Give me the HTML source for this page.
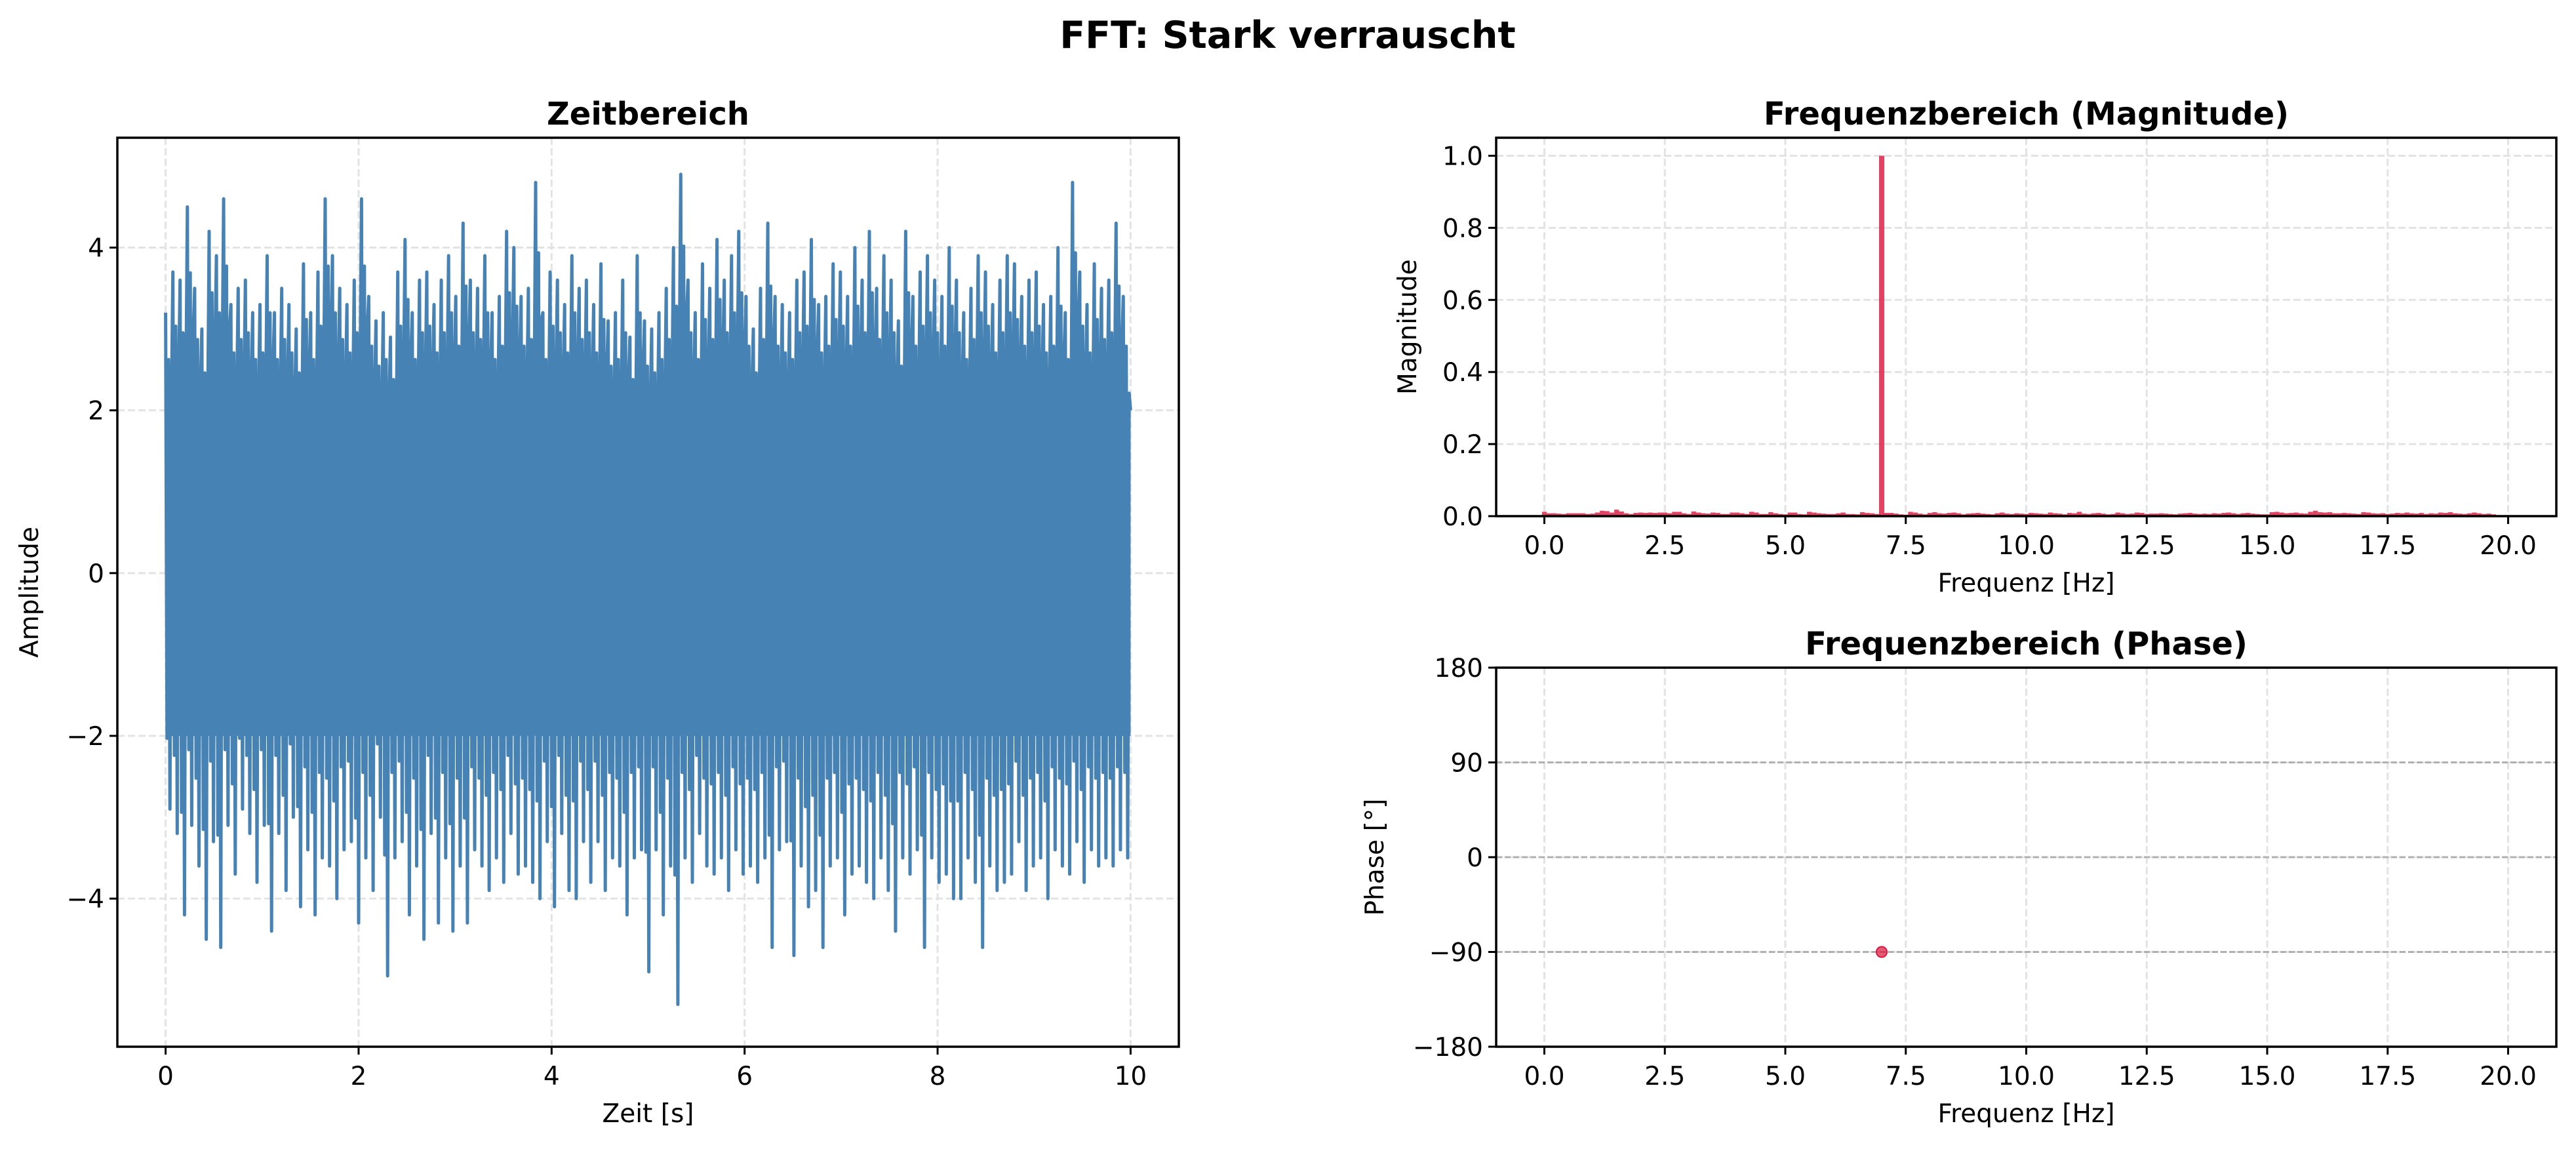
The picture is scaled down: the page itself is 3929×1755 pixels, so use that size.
<!DOCTYPE html>
<html><head><meta charset="utf-8"><style>
html,body{margin:0;padding:0;background:#fff}
svg{display:block}
text{font-family:"DejaVu Sans","Liberation Sans",sans-serif}
</style></head><body>
<svg id="fig" width="3929" height="1755" viewBox="0 0 3929 1755" xmlns="http://www.w3.org/2000/svg">
<rect width="3929" height="1755" fill="#fff"/>
<text x="1964" y="73" font-size="57" font-weight="bold" text-anchor="middle">FFT: Stark verrauscht</text>
<g id="ax1"></g>
<g id="ax2"></g>
<g id="ax3"></g>
</svg>
<script>
// ---- data ----
const timePeaks = [3.2,3.7,3.6,4.5,3.5,3.0,4.2,3.9,4.6,3.3,3.5,3.6,3.2,3.3,3.9,3.2,3.5,3.3,3.0,3.8,3.2,3.7,4.6,3.9,3.5,3.3,3.6,4.6,3.4,3.1,3.2,2.9,3.7,4.1,3.2,3.6,3.7,3.3,3.6,3.9,3.4,4.3,3.6,3.5,3.9,3.2,3.4,4.2,4.0,3.4,3.5,4.8,3.2,3.7,3.6,3.3,3.9,3.5,3.6,3.3,3.8,3.1,3.2,3.6,2.9,3.9,3.1,3.0,3.2,3.5,4.0,4.9,3.6,3.2,3.8,3.5,4.1,3.6,3.9,4.2,3.4,3.0,3.5,4.3,3.4,3.3,3.2,3.6,3.7,4.1,3.3,3.4,3.8,3.7,3.4,4.0,3.6,4.2,3.5,3.9,3.6,3.1,4.2,3.4,3.7,3.9,3.6,3.4,4.0,3.6,3.2,3.5,3.9,3.7,3.3,3.6,3.9,3.8,3.4,3.6,3.7,3.3,3.4,4.0,3.2,4.8,3.7,3.3,3.8,3.5,3.6,4.3,3.4,2.0];
const timeTroughs = [-2.9,-3.2,-4.2,-3.1,-3.6,-4.5,-3.3,-4.6,-3.1,-3.7,-2.9,-3.2,-3.8,-3.1,-4.4,-3.2,-3.9,-3.0,-4.1,-3.4,-4.2,-3.5,-3.6,-4.0,-3.4,-3.3,-4.3,-3.5,-3.9,-3.0,-4.95,-3.5,-3.3,-4.2,-3.6,-4.5,-3.2,-4.3,-3.5,-4.4,-3.6,-4.3,-3.4,-3.6,-3.9,-3.5,-3.8,-3.2,-3.7,-3.6,-3.8,-4.0,-3.3,-4.1,-3.2,-3.9,-4.0,-3.3,-3.8,-3.3,-3.9,-3.5,-3.6,-4.2,-3.5,-3.4,-4.9,-3.4,-4.2,-3.6,-5.3,-3.5,-3.8,-3.2,-3.6,-3.7,-3.5,-3.9,-3.4,-3.7,-3.6,-3.8,-3.5,-4.6,-3.4,-3.3,-4.7,-3.6,-4.1,-3.9,-4.6,-3.6,-3.5,-4.2,-3.7,-3.6,-3.8,-4.0,-3.5,-3.9,-4.4,-3.5,-3.7,-3.4,-4.6,-3.5,-3.8,-3.7,-4.0,-4.0,-3.5,-3.8,-4.6,-3.6,-3.9,-3.8,-3.7,-3.3,-3.9,-3.6,-3.5,-4.0,-3.4,-3.6,-3.7,-3.3,-3.8,-3.4,-3.6,-3.5,-3.6,-3.4,-3.5,-3.4];
const magSmall = [0.012,0.008,0.008,0.007,0.006,0.008,0.008,0.008,0.008,0.006,0.007,0.010,0.015,0.014,0.010,0.018,0.013,0.008,0.006,0.009,0.010,0.009,0.010,0.009,0.010,0.010,0.008,0.012,0.012,0.008,0.006,0.013,0.010,0.008,0.007,0.010,0.009,0.006,0.006,0.010,0.010,0.008,0.006,0.012,0.010,0.006,0.006,0.011,0.008,0.006,0.005,0.010,0.010,0.006,0.005,0.012,0.010,0.008,0.007,0.006,0.006,0.008,0.010,0.006,0.006,0.005,0.011,0.009,0.008,0.006,1.0,0.009,0.009,0.007,0.005,0.004,0.012,0.010,0.007,0.005,0.009,0.011,0.008,0.007,0.009,0.010,0.008,0.005,0.007,0.008,0.009,0.007,0.006,0.005,0.008,0.010,0.007,0.006,0.008,0.007,0.006,0.009,0.008,0.007,0.006,0.010,0.008,0.007,0.005,0.009,0.008,0.012,0.007,0.006,0.008,0.009,0.007,0.005,0.006,0.010,0.008,0.006,0.007,0.010,0.009,0.006,0.007,0.007,0.008,0.007,0.006,0.005,0.007,0.008,0.009,0.007,0.006,0.007,0.006,0.008,0.007,0.009,0.010,0.008,0.006,0.008,0.009,0.007,0.006,0.005,0.005,0.011,0.012,0.010,0.008,0.009,0.010,0.008,0.007,0.012,0.015,0.011,0.010,0.011,0.008,0.008,0.009,0.008,0.007,0.006,0.011,0.010,0.008,0.007,0.008,0.006,0.007,0.009,0.008,0.010,0.008,0.007,0.009,0.006,0.008,0.007,0.010,0.009,0.011,0.008,0.007,0.006,0.008,0.010,0.008,0.006,0.007,0.005];
const phaseFreq = [7.0];
const phaseVals = [-90];
const timeXTicks = [0,2,4,6,8,10];
const timeYTicks = [-4,-2,0,2,4];
const freqXTicks = [0,2.5,5,7.5,10,12.5,15,17.5,20];
const magYTicks = [0,0.2,0.4,0.6,0.8,1.0];
const phaseYTicks = [-180,-90,0,90,180];

const NS='http://www.w3.org/2000/svg';
function mk(parent,tag,attrs,txt){const e=document.createElementNS(NS,tag);for(const k in attrs)e.setAttribute(k,attrs[k]);if(txt!==undefined)e.textContent=txt;parent.appendChild(e);return e;}
function lab(v){return (v<0?'\u2212':'')+Math.abs(v);}

function axes(g,L,T,R,B,xmin,xmax,ymin,ymax,xt,yt,xfmt,yfmt,title,xl,yl,ylx){
  const sx=v=>L+(v-xmin)/(xmax-xmin)*(R-L);
  const sy=v=>B-(v-ymin)/(ymax-ymin)*(B-T);
  const grid=mk(g,'g',{});
  
  
  xt.forEach(v=>{mk(grid,'line',{x1:sx(v),x2:sx(v),y1:T,y2:B,stroke:'#e3e3e3','stroke-width':3,'stroke-dasharray':'11,5'});});
  yt.forEach(v=>{mk(grid,'line',{x1:L,x2:R,y1:sy(v),y2:sy(v),stroke:'#e3e3e3','stroke-width':3,'stroke-dasharray':'11,5'});});
  const tk=mk(g,'g',{});
  
  
  xt.forEach(v=>{mk(tk,'line',{x1:sx(v),x2:sx(v),y1:B,y2:B+12,stroke:'#000','stroke-width':3});
    const t=mk(tk,'text',{x:sx(v),y:B+58,'font-size':39,'text-anchor':'middle'},xfmt(v));
    
    });
  yt.forEach(v=>{mk(tk,'line',{x1:L-12,x2:L,y1:sy(v),y2:sy(v),stroke:'#000','stroke-width':3});
    const t=mk(tk,'text',{x:L-20,y:sy(v)+14,'font-size':39,'text-anchor':'end'},yfmt(v));
    
    });
  const tt=mk(g,'text',{x:(L+R)/2,y:T-20,'font-size':48,'font-weight':'bold','text-anchor':'middle'},title);
  
  
  const xa=mk(g,'text',{x:(L+R)/2,y:B+115,'font-size':39,'text-anchor':'middle'},xl);
  
  
  const ya=mk(g,'text',{x:ylx,y:(T+B)/2,'font-size':39,'text-anchor':'middle',transform:`rotate(-90 ${ylx} ${(T+B)/2})`},yl);
  
  
  return {sx,sy,frame:()=>{const f=mk(g,'rect',{x:L,y:T,width:R-L,height:B-T,fill:'none',stroke:'#000','stroke-width':3.5});
    
    }};
}

// time domain
const g1=document.getElementById('ax1');
const a1=axes(g1,179,210,1798,1596,-0.5,10.5,-5.82,5.35,timeXTicks,timeYTicks,lab,lab,'Zeitbereich','Zeit [s]','Amplitude',58);
{
  const n=timePeaks.length;let pts=[];
  for(let i=0;i<n;i++){
    const t0=i/(n-1)*10, dt=10/(n-1);
    pts.push([t0,timePeaks[i]]);
    pts.push([t0+dt*0.2,timeTroughs[i]*0.7]);
    pts.push([t0+dt*0.4,timePeaks[i]*0.82]);
    pts.push([t0+dt*0.6,timeTroughs[i]]);
    pts.push([t0+dt*0.8,timePeaks[i]*0.65]);
  }
  pts=pts.filter(p=>p[0]<=10);
  const d=pts.map((p,i)=>(i?'L':'M')+a1.sx(p[0]).toFixed(1)+','+a1.sy(p[1]).toFixed(1)).join('');
  const band=mk(g1,'rect',{x:a1.sx(0),y:a1.sy(2.0),width:a1.sx(10)-a1.sx(0),height:a1.sy(-2.0)-a1.sy(2.0),fill:'#4682B4'});
  
  
  const p=mk(g1,'path',{d,fill:'none',stroke:'#4682B4','stroke-width':5,'stroke-linejoin':'round'});
  
  
}
a1.frame();

// magnitude
const g2=document.getElementById('ax2');
const a2=axes(g2,2282,210,3899,787,-1,21,0,1.05,freqXTicks,magYTicks,v=>v.toFixed(1),v=>v.toFixed(1),'Frequenzbereich (Magnitude)','Frequenz [Hz]','Magnitude',2160);
magSmall.forEach((v,i)=>{
  const f=i*0.1;
  const b=mk(g2,'line',{x1:a2.sx(f),x2:a2.sx(f),y1:a2.sy(0),y2:a2.sy(v),stroke:'#DC143C','stroke-opacity':0.8,'stroke-width':v>0.5?8:7.4});
  
  
});
a2.frame();

// phase
const g3=document.getElementById('ax3');
const a3=axes(g3,2282,1018,3899,1596,-1,21,-180,180,freqXTicks,phaseYTicks,v=>v.toFixed(1),lab,'Frequenzbereich (Phase)','Frequenz [Hz]','Phase [°]',2110);
[90,0,-90].forEach(v=>{const l=mk(g3,'line',{x1:2282,x2:3899,y1:a3.sy(v),y2:a3.sy(v),stroke:'#b0b0b0','stroke-width':3,'stroke-dasharray':'9,4'});
  
  });
phaseFreq.forEach((f,i)=>{
  const c=mk(g3,'circle',{cx:a3.sx(f),cy:a3.sy(phaseVals[i]),r:8,fill:'#DC143C','fill-opacity':0.7,stroke:'#DC143C','stroke-width':2});
  
  
});
a3.frame();
</script>
</body></html>
